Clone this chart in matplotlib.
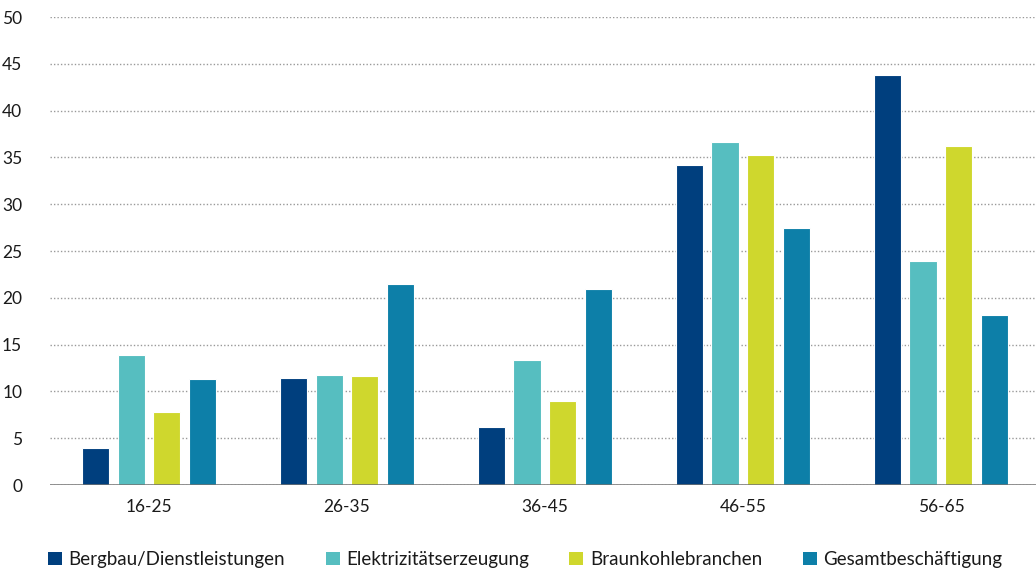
import numpy as np
import matplotlib
matplotlib.use('Agg')
import matplotlib.pyplot as plt
from matplotlib.patches import Patch

# age groups and shares (%) per sector
age_groups = ['16-25', '26-35', '36-45', '46-55', '56-65']
bergbau = [4.0, 11.4, 6.2, 34.2, 43.8]
elektrizitaet = [13.9, 11.8, 13.4, 36.6, 23.9]
braunkohle = [7.8, 11.6, 9.0, 35.3, 36.2]
gesamt = [11.3, 21.5, 20.9, 27.5, 18.2]

series_names = ['Bergbau/Dienstleistungen', 'Elektrizitätserzeugung',
                'Braunkohlebranchen', 'Gesamtbeschäftigung']
colors = ['#003f7e', '#56bec0', '#cfd72d', '#0d7fa8']

plt.rcParams['font.family'] = ['Lato', 'DejaVu Sans']

fig = plt.figure(figsize=(10.36, 5.74), dpi=100)
ax = fig.add_axes([50 / 1036, 1 - 485 / 574, 1 - 50 / 1036, (485 - 17) / 574])

x = np.arange(len(age_groups))
width = 0.138
step = 0.18
all_series = [bergbau, elektrizitaet, braunkohle, gesamt]
for i, (vals, col) in enumerate(zip(all_series, colors)):
    ax.bar(x + (i - 1.5) * step, vals, width, color=col,
           edgecolor='white', linewidth=0.8, zorder=3)

ax.set_xlim(-0.5, 4.48)
ax.set_ylim(0, 50)
ax.set_yticks(np.arange(0, 51, 5))
ax.set_xticks(x)
ax.set_xticklabels(age_groups)
ax.grid(axis='y', linestyle=(0, (1, 1.5)), color='#999999', linewidth=1.0, zorder=0)
ax.axhline(0, color='#707070', linewidth=1.8, zorder=4)

for s in ax.spines.values():
    s.set_visible(False)
ax.tick_params(axis='both', length=0, labelsize=12.5, colors='#1a1a1a')
ax.tick_params(axis='y', pad=20)
ax.tick_params(axis='x', pad=10)

handles = [Patch(facecolor=c, edgecolor='none') for c in colors]
fig.legend(handles, series_names, loc='center left', bbox_to_anchor=(0.03, 0.025),
           ncol=4, frameon=False, fontsize=13.5, handlelength=0.75, handleheight=0.75,
           handletextpad=0.35, columnspacing=2.15, labelcolor='#1a1a1a')

fig.savefig('out.png', dpi=100)
